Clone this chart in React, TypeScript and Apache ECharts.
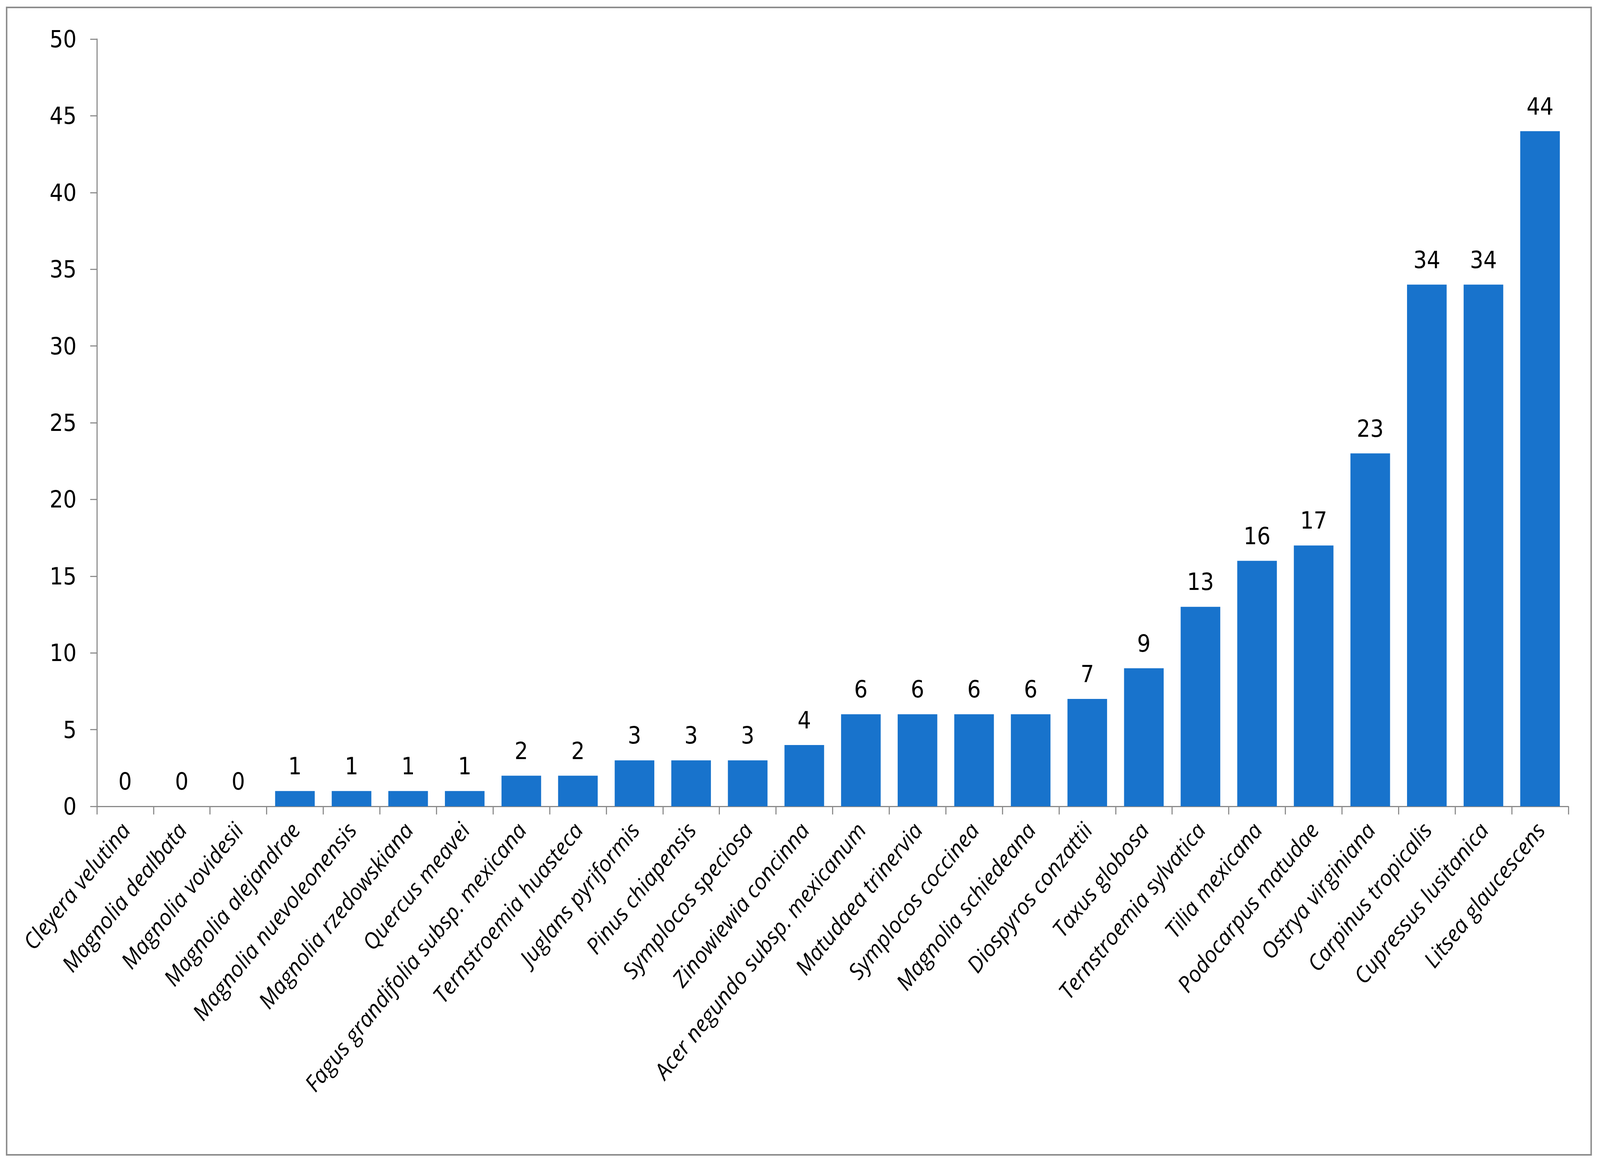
import React, { useEffect, useRef } from "react";
import * as echarts from "echarts";

const categories: string[] = [
  "Cleyera velutina",
  "Magnolia dealbata",
  "Magnolia vovidesii",
  "Magnolia alejandrae",
  "Magnolia nuevoleonensis",
  "Magnolia rzedowskiana",
  "Quercus meavei",
  "Fagus grandifolia subsp. mexicana",
  "Ternstroemia huasteca",
  "Juglans pyriformis",
  "Pinus chiapensis",
  "Symplocos speciosa",
  "Zinowiewia concinna",
  "Acer negundo subsp. mexicanum",
  "Matudaea trinervia",
  "Symplocos coccinea",
  "Magnolia schiedeana",
  "Diospyros conzattii",
  "Taxus globosa",
  "Ternstroemia sylvatica",
  "Tilia mexicana",
  "Podocarpus matudae",
  "Ostrya virginiana",
  "Carpinus tropicalis",
  "Cupressus lusitanica",
  "Litsea glaucescens",
];

const values: number[] = [
  0, 0, 0, 1, 1, 1, 1, 2, 2, 3, 3, 3, 4, 6, 6, 6, 6, 7, 9, 13, 16, 17, 23, 34, 34, 44,
];

const yMin = 0;
const yMax = 50;
const yInterval = 5;

const REF_W = 4345;
const REF_H = 2982;
const numFont = "'Liberation Sans Narrow', 'DejaVu Sans Condensed', 'Roboto Condensed', 'Liberation Sans', sans-serif";
const catFont = "'Open Sans', 'Noto Sans', sans-serif";
const axisGray = "#8a8a8a";

export default function App() {
  const ref = useRef<HTMLDivElement>(null);
  useEffect(() => {
    const el = ref.current;
    if (!el) return;
    const w = el.clientWidth || window.innerWidth;
    const h = el.clientHeight || window.innerHeight;
    const sx = w / REF_W;
    const sy = h / REF_H;
    const s = Math.min(sx, sy);
    const chart = echarts.init(el, undefined, { renderer: "svg", width: w, height: h });
    chart.setOption({
      animation: false,
      backgroundColor: "#ffffff",
      grid: {
        left: 263 * sx,
        right: 86 * sx,
        top: 100 * sy,
        bottom: 918 * sy,
        containLabel: false,
      },
      graphic: [
        {
          type: "rect",
          shape: { x: 18 * sx, y: 19 * sy, width: 4303 * sx, height: 2937 * sy },
          style: { fill: "none", stroke: "#8c8c8c", lineWidth: 4 * s },
          silent: true,
        },
      ],
      xAxis: {
        type: "category",
        data: categories,
        boundaryGap: true,
        axisLine: { show: true, lineStyle: { color: axisGray, width: 3 * s } },
        axisTick: { show: true, length: 22 * s, lineStyle: { color: axisGray, width: 3 * s } },
        axisLabel: {
          interval: 0,
          rotate: 51,
          margin: 52 * s,
          fontFamily: catFont,
          fontStyle: "italic",
          fontSize: 60 * s,
          color: "#000000",
        },
        splitLine: { show: false },
      },
      yAxis: {
        type: "value",
        min: yMin,
        max: yMax,
        interval: yInterval,
        axisLine: { show: true, lineStyle: { color: axisGray, width: 3 * s } },
        axisTick: { show: true, length: 18 * s, lineStyle: { color: axisGray, width: 3 * s } },
        axisLabel: {
          margin: 55 * s,
          fontFamily: numFont,
          fontSize: 64 * s,
          color: "#000000",
        },
        splitLine: { show: false },
      },
      series: [
        {
          type: "bar",
          data: values,
          barCategoryGap: "30%",
          itemStyle: { color: "#1873CC" },
          label: {
            show: true,
            position: "top",
            distance: 36 * s,
            fontFamily: numFont,
            fontSize: 64 * s,
            color: "#000000",
          },
        },
      ],
    });
    return () => chart.dispose();
  }, []);
  return (
    <div
      ref={ref}
      style={{
        position: "fixed",
        left: 0,
        top: 0,
        width: "100vw",
        height: "100vh",
        background: "#fff",
      }}
    />
  );
}
